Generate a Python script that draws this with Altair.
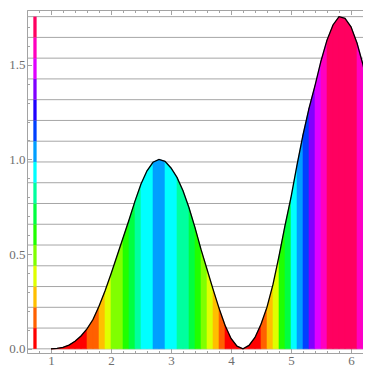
import altair as alt
import pandas as pd
import colorsys

# ---- data ----
x_vals = [1.0, 1.1, 1.2, 1.3, 1.4, 1.5, 1.6, 1.7, 1.8, 1.9,
          2.0, 2.1, 2.2, 2.3, 2.4, 2.5, 2.6, 2.7, 2.8, 2.9,
          3.0, 3.1, 3.2, 3.3, 3.4, 3.5, 3.6, 3.7, 3.8, 3.9,
          4.0, 4.1, 4.2, 4.3, 4.4, 4.5, 4.6, 4.7, 4.8, 4.9,
          5.0, 5.1, 5.2, 5.3, 5.4, 5.5, 5.6, 5.7, 5.8, 5.9,
          6.0, 6.1, 6.2, 6.28]
y_vals = [0.0, 0.002, 0.008, 0.02, 0.04, 0.068, 0.105, 0.155, 0.225, 0.305,
          0.395, 0.49, 0.585, 0.68, 0.78, 0.87, 0.94, 0.985, 1.0, 0.99,
          0.955, 0.905, 0.835, 0.745, 0.64, 0.525, 0.42, 0.315, 0.215, 0.125,
          0.055, 0.014, 0.0, 0.018, 0.06, 0.13, 0.22, 0.34, 0.49, 0.65,
          0.80, 0.97, 1.13, 1.27, 1.39, 1.52, 1.63, 1.71, 1.754, 1.745,
          1.70, 1.615, 1.50, 1.385]
V_MAX = 1.754          # top of the colour scale
N_BANDS = 16           # colour bands / horizontal grid lines
LEGEND_X = 0.733       # x position of the colour bar
x_tick_labels = [1, 2, 3, 4, 5, 6]
y_tick_labels = [0.0, 0.5, 1.0, 1.5]

# ---- layout ----
X_MIN, X_MAX = 0.6, 6.2
Y_MIN, Y_MAX = -0.022, 1.789
W, H = 336, 343
FRAME = "#a3a3a3"
LABEL = "#6e6e6e"
FONT = "Liberation Serif"


def band_color(k):
    k = max(0, min(N_BANDS - 1, k))
    r, g, b = colorsys.hsv_to_rgb(k / N_BANDS, 1.0, 1.0)
    return "#%02x%02x%02x" % (round(r * 255), round(g * 255), round(b * 255))


# strips under the curve, coloured by value band
rows = []
for i in range(len(x_vals) - 1):
    mid = (y_vals[i] + y_vals[i + 1]) / 2
    col = band_color(int(N_BANDS * mid / V_MAX))
    rows.append({"strip": i, "x": x_vals[i], "y": y_vals[i], "col": col})
    rows.append({"strip": i, "x": x_vals[i + 1], "y": y_vals[i + 1], "col": col})
strip_df = pd.DataFrame(rows)

curve_df = pd.DataFrame({"x": x_vals, "y": y_vals})
grid_df = pd.DataFrame({"g": [k * V_MAX / N_BANDS for k in range(N_BANDS + 1)]})
bar_df = pd.DataFrame({
    "bx": [LEGEND_X] * N_BANDS,
    "lo": [k * V_MAX / N_BANDS for k in range(N_BANDS)],
    "hi": [(k + 1) * V_MAX / N_BANDS for k in range(N_BANDS)],
    "col": [band_color(k) for k in range(N_BANDS)],
})

xs = alt.Scale(domain=[X_MIN, X_MAX], nice=False, zero=False)
ys = alt.Scale(domain=[Y_MIN, Y_MAX], nice=False, zero=False)

x_minor = [round(0.6 + 0.2 * k, 1) for k in range(29) if 0.6 + 0.2 * k <= X_MAX + 1e-9]
y_minor = [round(0.1 * k, 1) for k in range(18)]
x_size = {"condition": {"test": "abs(datum.value - round(datum.value)) < 0.01", "value": 4.5}, "value": 2.5}
y_size = {"condition": {"test": "abs(datum.value * 2 - round(datum.value * 2)) < 0.01", "value": 4.5}, "value": 2.5}

common = dict(grid=False, title=None, domainColor=FRAME, tickColor=FRAME,
              domainWidth=1, tickWidth=1)

grid = alt.Chart(grid_df).mark_rule(color="#a6a6a6", strokeWidth=1).encode(
    y=alt.Y("g:Q", scale=ys, axis=alt.Axis(
        orient="left", values=y_tick_labels, format=".1f", ticks=False, tickSize=0,
        domain=False, labelPadding=2, labelFont=FONT, labelFontSize=13,
        labelColor=LABEL, grid=False, title=None))
)

area = alt.Chart(strip_df).mark_area(strokeWidth=0.6, interpolate="linear", clip=True).encode(
    x=alt.X("x:Q", scale=xs, axis=alt.Axis(
        orient="bottom", values=x_tick_labels, format="d", ticks=False, tickSize=0,
        domain=False, labelPadding=1, labelFont=FONT, labelFontSize=13,
        labelColor=LABEL, grid=False, title=None)),
    y=alt.Y("y:Q", scale=ys, stack=None, axis=alt.Axis(
        orient="right", offset=-W, values=y_minor, labels=False, domain=True,
        ticks=True, tickSize=y_size, **common)),
    color=alt.Color("col:N", scale=None),
    stroke=alt.Stroke("col:N", scale=None),
    detail="strip:N",
)

line = alt.Chart(curve_df).mark_line(color="black", strokeWidth=1.3, clip=True).encode(
    x=alt.X("x:Q", scale=xs, axis=alt.Axis(
        orient="top", offset=-H, values=x_minor, labels=False, domain=True,
        ticks=True, tickSize=x_size, **common)),
    y=alt.Y("y:Q", scale=ys, axis=None),
)

bar = alt.Chart(bar_df).mark_rule(strokeWidth=3.3, strokeCap="butt").encode(
    x=alt.X("bx:Q", scale=xs, axis=alt.Axis(
        orient="bottom", offset=-H, values=x_minor, labels=False, domain=True,
        ticks=True, tickSize=x_size, **common)),
    y=alt.Y("lo:Q", scale=ys, axis=None),
    y2="hi:Q",
    color=alt.Color("col:N", scale=None),
)

chart = alt.layer(grid, area, line, bar).resolve_axis(
    x="independent", y="independent"
).properties(
    width=W, height=H,
    autosize=alt.AutoSizeParams(type="none"),
    padding={"left": 19, "top": 2, "right": 0, "bottom": 13},
    background="white",
).configure_view(stroke=None)

chart.save("out.html", embed_options={"renderer": "svg", "actions": False})
